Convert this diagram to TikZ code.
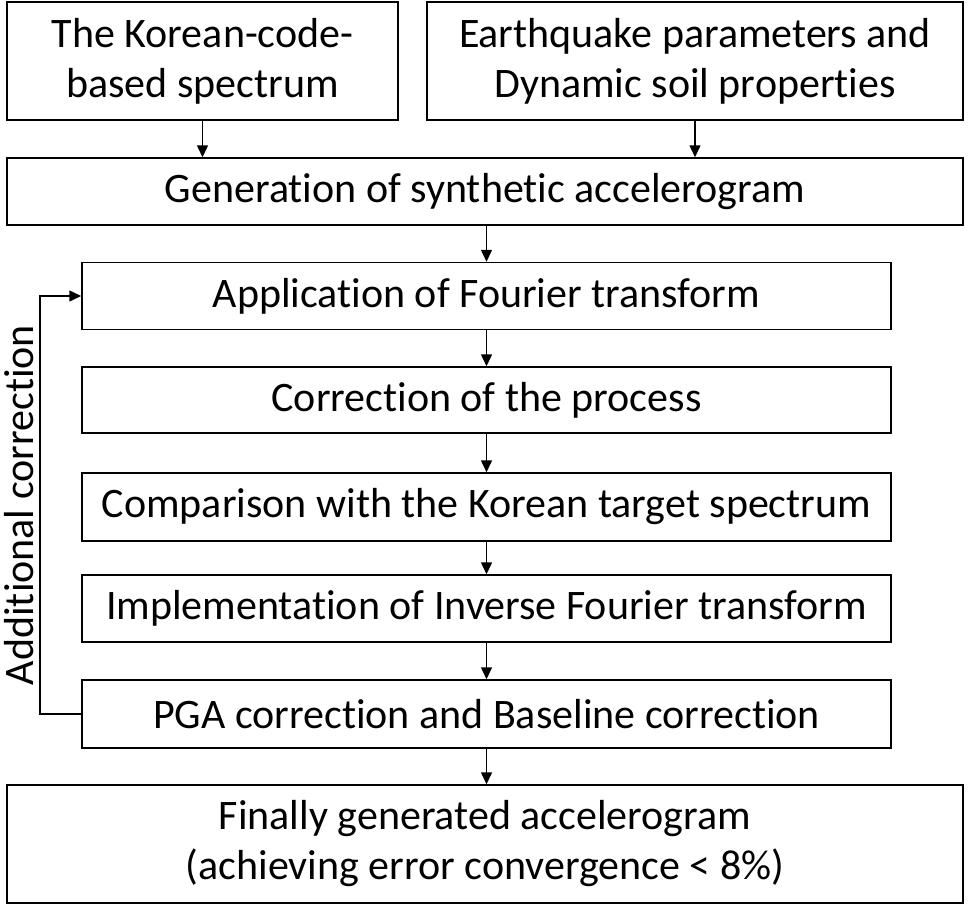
\documentclass[tikz,border=0pt]{standalone}
\usepackage{fontspec}
\setmainfont{Carlito}[Ligatures=NoCommon]
\usetikzlibrary{arrows.meta}

\tikzset{
  stepbox/.style={draw, line width=1.5pt, align=center, inner sep=0pt,
    font=\fontsize{42}{50}\selectfont},
  flow/.style={line width=1.5pt, -{Triangle[length=12pt,width=11pt]}}
}

\begin{document}
\begin{tikzpicture}[x=1pt, y=-1pt]
    % --- Cadre ---
    \useasboundingbox (0,0) rectangle (968,905);

    % --- Entrées ---
    \node[stepbox, minimum width=391pt, minimum height=118pt] (spec) at (202.5,61)
        {The Korean-code-\\based spectrum};
    \node[stepbox, minimum width=536pt, minimum height=118pt] (param) at (695,61)
        {Earthquake parameters and\\Dynamic soil properties};

    % --- Génération ---
    \node[stepbox, minimum width=956pt, minimum height=67pt] (gen) at (485,191.5)
        {Generation of synthetic accelerogram};

    % --- Boucle de correction ---
    \node[stepbox, minimum width=809pt, minimum height=67pt] (fourier) at (486.5,296)
        {Application of Fourier transform};
    \node[stepbox, minimum width=809pt, minimum height=66pt] (corr) at (486.5,400)
        {Correction of the process};
    \node[stepbox, minimum width=809pt, minimum height=68pt] (comp) at (486.5,507)
        {Comparison with the Korean target spectrum};
    \node[stepbox, minimum width=809pt, minimum height=67pt] (inverse) at (486.5,608.5)
        {Implementation of Inverse Fourier transform};
    \node[stepbox, minimum width=809pt, minimum height=68pt] (pga) at (486.5,714)
        {PGA correction and Baseline correction};

    % --- Résultat ---
    \node[stepbox, minimum width=956pt, minimum height=118pt] (final) at (485,844)
        {Finally generated accelerogram\\(achieving error convergence < 8\%)};

    % --- Flèches ---
    \draw[flow] (spec.south) -- (spec.south |- gen.north);
    \draw[flow] (param.south) -- (param.south |- gen.north);
    \draw[flow] (fourier.north |- gen.south) -- (fourier.north);
    \draw[flow] (fourier) -- (corr);
    \draw[flow] (corr) -- (comp);
    \draw[flow] (comp) -- (inverse);
    \draw[flow] (inverse) -- (pga);
    \draw[flow] (pga.south) -- (pga.south |- final.north);

    % --- Retour ---
    \coordinate (fb) at (40,714);
    \draw[flow] (pga.west) -- (fb) |- (fourier.west);
    \node[rotate=90, font=\fontsize{42}{50}\selectfont] (addcorr) at (19,505)
        {Additional correction};
\end{tikzpicture}
\end{document}
